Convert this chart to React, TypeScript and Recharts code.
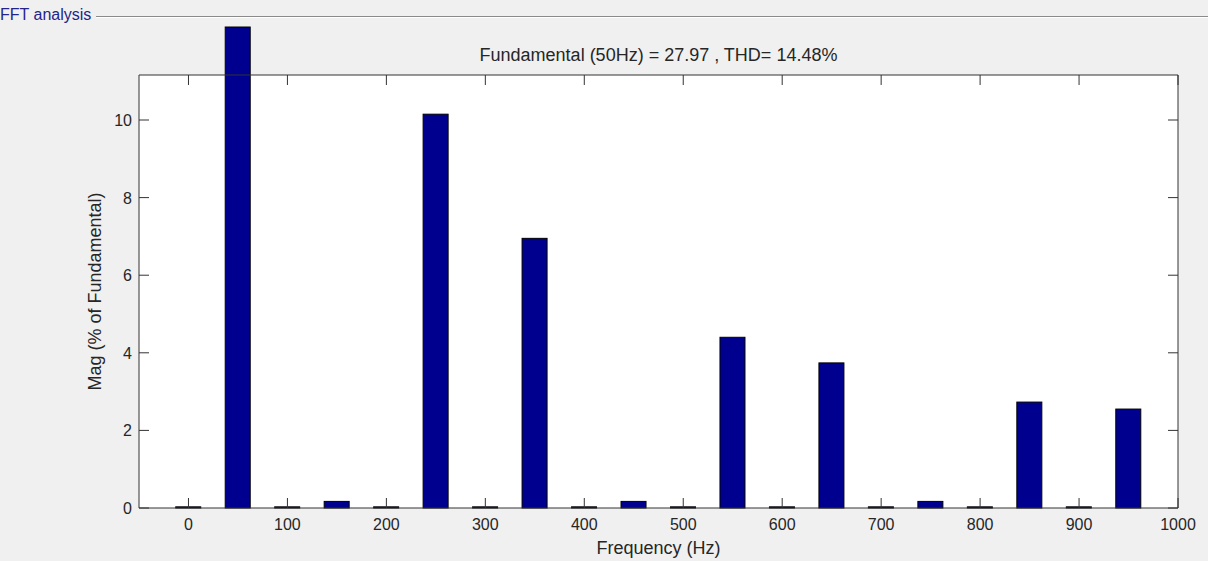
import { BarChart, Bar, XAxis, YAxis, CartesianGrid, Label } from 'recharts'

// harmonic spectrum, % of fundamental
const freqs = [0, 50, 100, 150, 200, 250, 300, 350, 400, 450, 500, 550, 600, 650, 700, 750, 800, 850, 900, 950]
const mags = [0.03, 100, 0.03, 0.17, 0.03, 10.15, 0.03, 6.95, 0.03, 0.17, 0.03, 4.4, 0.03, 3.74, 0.03, 0.17, 0.03, 2.73, 0.03, 2.55]
const xTicks = [0, 100, 200, 300, 400, 500, 600, 700, 800, 900, 1000]
const yTicks = [0, 2, 4, 6, 8, 10]
const title = 'Fundamental (50Hz) = 27.97 , THD= 14.48%'

const data = freqs.map((f, i) => ({ f, mag: mags[i] }))

const AXIS = '#333'
const TEXT = '#262626'
const BAR = '#00008F'
const FONT = '"Liberation Sans", Arial, sans-serif'
const CEIL = 27 // fundamental bar is cut at the panel edge

function BottomTick({ x, y, payload }: any) {
  return (
    <g>
      <line x1={x} x2={x} y1={y} y2={y - 10} stroke={AXIS} />
      <text x={x} y={y + 22} textAnchor="middle" fontSize={16} fill={TEXT}>{payload.value}</text>
    </g>
  )
}

function TopTick({ x, y }: any) {
  return <line x1={x} x2={x} y1={y} y2={y + 10} stroke={AXIS} />
}

function LeftTick({ x, y, payload }: any) {
  return (
    <g>
      <line x1={x} x2={x + 10} y1={y} y2={y} stroke={AXIS} />
      <text x={x - 7} y={y + 6} textAnchor="end" fontSize={16} fill={TEXT}>{payload.value}</text>
    </g>
  )
}

function RightTick({ x, y }: any) {
  return <line x1={x} x2={x - 10} y1={y} y2={y} stroke={AXIS} />
}

function MagBar(props: any) {
  const { x, y, width, height } = props
  const bottom = y + height
  const top = Math.max(y, CEIL)
  return <rect x={x} y={top} width={width} height={Math.max(bottom - top, 0)} fill={BAR} stroke="#000" strokeWidth={1} />
}

export default function App() {
  return (
    <div style={{ position: 'absolute', left: 0, top: 0, width: 1208, height: 561, background: '#f0f0f0', fontFamily: FONT, overflow: 'hidden' }}>
      <style>{`.recharts-bar-rectangles, .recharts-bar [clip-path] { clip-path: none !important; }`}</style>
      <div style={{ position: 'absolute', left: 96, right: 0, top: 16, borderTop: '1px solid #8a8a8a', borderBottom: '1px solid #fff' }} />
      <div style={{ position: 'absolute', left: 0, top: 6, fontSize: 16, color: '#24248a', lineHeight: '18px' }}>FFT analysis</div>
      <div style={{ position: 'absolute', left: 139, width: 1039, top: 45, textAlign: 'center', fontSize: 18, color: TEXT, lineHeight: '20px' }}>{title}</div>
      <div style={{ position: 'absolute', left: 0, top: 0 }}>
        <BarChart width={1208} height={561} data={data} margin={{ top: 74, right: 29, bottom: 0, left: 0 }}>
          <CartesianGrid fill="#fff" horizontal={false} vertical={false} />
          <XAxis dataKey="f" type="number" domain={[-50, 1000]} ticks={xTicks} allowDataOverflow height={53}
            axisLine={{ stroke: AXIS }} tickLine={false} tickSize={0} tickMargin={0} tick={<BottomTick />} interval={0}>
            <Label value="Frequency (Hz)" position="center" dy={13} fontSize={18} fill={TEXT} />
          </XAxis>
          <XAxis xAxisId="top" orientation="top" dataKey="f" type="number" domain={[-50, 1000]} ticks={xTicks} allowDataOverflow height={1}
            axisLine={{ stroke: AXIS }} tickLine={false} tickSize={0} tickMargin={0} tick={<TopTick />} interval={0} />
          <YAxis type="number" domain={[0, 11.16]} ticks={yTicks} allowDataOverflow width={139}
            axisLine={{ stroke: AXIS }} tickLine={false} tickSize={0} tickMargin={0} tick={<LeftTick />} interval={0}>
            <Label value="Mag (% of Fundamental)" angle={-90} position="center" dx={25} fontSize={18} fill={TEXT} />
          </YAxis>
          <YAxis yAxisId="right" orientation="right" type="number" domain={[0, 11.16]} ticks={yTicks} allowDataOverflow width={1}
            axisLine={{ stroke: AXIS }} tickLine={false} tickSize={0} tickMargin={0} tick={<RightTick />} interval={0} />
          <Bar dataKey="mag" barSize={25} shape={MagBar} isAnimationActive={false} />
        </BarChart>
      </div>
    </div>
  )
}
